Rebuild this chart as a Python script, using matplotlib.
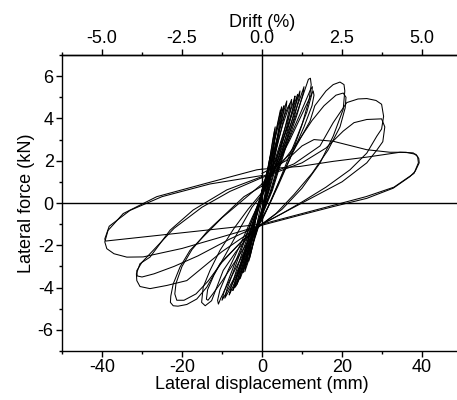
import matplotlib
matplotlib.use("Agg")
import matplotlib.pyplot as plt
from matplotlib.ticker import MultipleLocator, FormatStrFormatter

plt.rcParams['font.family'] = ['Liberation Sans', 'DejaVu Sans']
plt.rcParams['axes.unicode_minus'] = False

# ---- axis ticks / labels ----
x_ticks = [-40, -20, 0, 20, 40]
y_ticks = [-6, -4, -2, 0, 2, 4, 6]
drift_ticks = [-5.0, -2.5, 0.0, 2.5, 5.0]
x_label = "Lateral displacement (mm)"
y_label = "Lateral force (kN)"
top_label = "Drift (%)"
mm_per_percent = 8.0  # 40 mm displacement = 5.0 % drift

# ---- hysteresis cycles (displacement mm, force kN) ----
c01_d = [0, 1.0, 1.8, 2.1, 1.8, 0.8, 0, -0.9, -1.6, -1.8, -1.5, -0.6, 0]
c01_f = [0.2, 1.2, 2.0, 2.2, 1.7, 0.5, -0.3, -1.0, -1.5, -1.6, -1.2, -0.4, 0.2]
c02_d = [0, 1.5, 2.6, 3.2, 3.0, 1.8, 0, -1.5, -2.6, -3.1, -2.9, -1.6, 0]
c02_f = [0.3, 1.6, 2.8, 3.5, 2.8, 1.2, -0.4, -1.3, -2.2, -2.6, -2.1, -0.8, 0.3]
c03_d = [0, 1.6, 2.7, 3.3, 3.1, 1.9, 0, -1.6, -2.8, -3.3, -3.0, -1.5, 0]
c03_f = [0.4, 1.7, 3.0, 3.6, 2.9, 1.1, -0.5, -1.4, -2.4, -2.75, -2.2, -0.7, 0.4]
c04_d = [0, 2.0, 3.6, 4.6, 4.7, 3.6, 1.5, 0, -1.8, -3.2, -3.9, -3.7, -2.2, 0]
c04_f = [0.4, 2.0, 3.5, 4.4, 4.2, 2.8, 0.6, -0.6, -1.6, -2.5, -2.95, -2.6, -1.2, 0.4]
c05_d = [0, 2.2, 3.8, 4.9, 5.0, 3.8, 1.6, 0, -2.0, -3.5, -4.3, -4.1, -2.4, 0]
c05_f = [0.5, 2.1, 3.6, 4.55, 4.3, 2.8, 0.6, -0.6, -1.8, -2.8, -3.25, -2.9, -1.3, 0.5]
c06_d = [0, 2.5, 4.6, 5.8, 6.2, 6.1, 5.2, 3.3, 1.2, 0, -2.2, -4.2, -5.3, -5.6, -5.2, -3.8, -1.8, 0]
c06_f = [0.5, 2.1, 3.7, 4.6, 4.83, 4.6, 3.8, 2.3, 0.6, -0.3, -1.6, -2.9, -3.5, -3.6, -3.2, -2.2, -0.8, 0.5]
c07_d = [0, 2.8, 5.2, 6.8, 7.4, 7.3, 6.3, 4.2, 1.8, 0, -2.5, -4.7, -5.9, -6.3, -5.8, -4.2, -2.0, 0]
c07_f = [0.5, 2.1, 3.7, 4.6, 4.9, 4.6, 3.7, 2.2, 0.6, -0.4, -1.7, -3.0, -3.7, -3.85, -3.4, -2.3, -0.8, 0.5]
c08_d = [0, 3.2, 6.0, 7.7, 8.25, 8.1, 7.0, 4.8, 2.0, 0, -2.8, -5.3, -6.8, -7.3, -6.7, -4.8, -2.2, 0]
c08_f = [0.4, 2.0, 3.7, 4.7, 5.06, 4.8, 3.9, 2.3, 0.5, -0.5, -1.8, -3.2, -3.95, -4.14, -3.7, -2.5, -0.9, 0.4]
c09_d = [0, 3.4, 6.5, 8.3, 8.9, 8.7, 7.5, 5.0, 2.2, 0, -3.0, -5.8, -7.6, -8.2, -7.6, -5.4, -2.5, 0]
c09_f = [0.4, 2.0, 3.7, 4.8, 5.14, 4.85, 3.9, 2.3, 0.5, -0.5, -1.8, -3.3, -4.1, -4.35, -3.9, -2.6, -1.0, 0.4]
c19_d = [0, 2.6, 4.9, 6.4, 7.0, 6.8, 5.7, 3.6, 1.4, 0, -2.6, -5.0, -6.4, -6.8, -6.3, -4.5, -2.1, 0]
c19_f = [0.6, 2.2, 3.8, 4.5, 4.7, 4.4, 3.5, 2.0, 0.4, -0.4, -1.8, -3.2, -3.9, -4.0, -3.5, -2.4, -0.9, 0.6]
c20_d = [0, 3.6, 6.8, 8.8, 9.5, 9.3, 8.0, 5.4, 2.4, 0, -3.2, -6.3, -8.4, -9.3, -8.8, -6.3, -3.0, 0]
c20_f = [0.5, 2.1, 3.8, 4.9, 5.3, 5.0, 4.0, 2.4, 0.6, -0.5, -1.9, -3.4, -4.2, -4.5, -4.1, -2.8, -1.1, 0.5]
c21_d = [0, 3.8, 7.3, 9.6, 10.5, 10.3, 8.8, 5.9, 2.6, 0, -3.4, -6.8, -9.1, -10.0, -9.5, -6.9, -3.3, 0]
c21_f = [0.4, 2.0, 3.8, 5.0, 5.5, 5.2, 4.2, 2.6, 0.6, -0.6, -2.0, -3.5, -4.3, -4.6, -4.2, -2.9, -1.2, 0.4]
c22_d = [0, 2.3, 4.2, 5.2, 5.5, 5.3, 4.3, 2.6, 0.9, 0, -2.0, -3.8, -4.6, -4.8, -4.4, -3.1, -1.4, 0]
c22_f = [0.6, 2.2, 3.8, 4.45, 4.6, 4.3, 3.4, 2.0, 0.4, -0.3, -1.5, -2.7, -3.2, -3.3, -2.9, -1.9, -0.6, 0.6]
c10_d = [0, 3, 6, 9, 10.8, 11.6, 12.1, 12.3, 11.8, 10, 7, 4, 1.5, 0, -2.5, -5.5, -8.5, -10.3, -10.9,
         -11.1, -10.5, -8.5, -5.5, -2.5, 0]
c10_f = [0.3, 1.6, 2.9, 4.4, 5.4, 5.85, 5.9, 5.6, 4.9, 3.7, 2.1, 0.8, -0.2, -0.7, -1.6, -2.7, -3.8, -4.5, -4.78,
         -4.6, -4.1, -3.2, -2.0, -0.7, 0.3]
c11_d = [0, 3.2, 6.5, 9.5, 11.3, 12.2, 12.6, 12.4, 11.2, 8.5, 5.5, 2.5, 0, -3, -6.5, -10, -12.3, -13.5, -13.9,
         -13.6, -12, -9, -5.5, -2.5, 0]
c11_f = [0.4, 1.6, 2.9, 4.2, 5.0, 5.4, 5.5, 5.1, 4.3, 3.0, 1.6, 0.2, -0.8, -1.7, -2.7, -3.7, -4.3, -4.6, -4.55,
         -4.1, -3.4, -2.4, -1.2, -0.2, 0.4]
c12_d = [0, 3.5, 7, 10, 12, 12.8, 13.0, 12.5, 10.5, 7.5, 4, 1, 0, -3, -6.5, -9.7, -11.3, -12.6, -14.2, -15.1,
         -14.7, -13, -10.5, -7, -3.5, 0]
c12_f = [0.5, 1.7, 3.0, 4.2, 5.0, 5.3, 5.1, 4.6, 3.6, 2.3, 0.9, -0.4, -0.8, -1.5, -2.3, -3.19, -3.98, -4.62, -4.86,
         -4.7, -3.98, -3.19, -2.24, -1.2, -0.3, 0.5]
c13_d = [0, 4, 7.8, 12, 13.2, 16, 17.8, 19.5, 20.5, 20.7, 20.3, 17.8, 14.5, 10, 5, 0, -5, -10.5, -13.8, -16.3,
         -18.8, -21, -22.2, -22.9, -22.8, -22.2, -20.5, -18, -14.7, -10, -5, 0]
c13_f = [0.9, 1.8, 2.44, 3.87, 4.6, 5.3, 5.6, 5.72, 5.6, 5.3, 4.43, 3.16, 1.89, 0.7, -0.3, -1.0, -1.8, -2.87,
         -3.98, -4.54, -4.8, -4.88, -4.86, -4.7, -4.4, -3.83, -3.03, -2.24, -1.6, -0.7, 0.1, 0.9]
c14_d = [0, 5, 9, 12.5, 15.5, 18.5, 20.3, 21, 20.8, 19.5, 16.5, 12.5, 8, 3.5, 0, -5, -10, -13.5, -16.5, -19.5,
         -21.3, -21.8, -21.5, -20, -17.5, -13.5, -9, -4.5, 0]
c14_f = [0.8, 1.9, 2.9, 3.9, 4.6, 5.1, 5.2, 5.0, 4.5, 3.6, 2.5, 1.4, 0.4, -0.5, -1.0, -1.8, -2.8, -3.7, -4.3,
         -4.6, -4.6, -4.3, -3.8, -3.0, -2.2, -1.3, -0.5, 0.3, 0.8]
c15_d = [0, 8, 14.5, 17.8, 21.2, 24, 26.2, 28.5, 29.9, 30.4, 29.9, 28.7, 26.2, 22, 16, 10, 5, 0, -10, -18.8,
         -23.8, -28, -30.5, -31.3, -31.4, -30.5, -28, -23, -17.2, -8.8, 0]
c15_f = [1.25, 1.85, 2.7, 3.8, 4.75, 4.92, 4.94, 4.85, 4.67, 4.1, 3.5, 3.16, 2.36, 1.57, 0.75, 0.05, -0.5, -1.0,
         -2.3, -3.67, -3.9, -4.05, -3.95, -3.67, -3.35, -2.87, -2.56, -1.29, -0.33, 0.62, 1.25]
c16_d = [0, 10, 16, 20.3, 23, 26.2, 29.9, 30.7, 30.2, 28.7, 26.2, 20, 12, 5, 0, -8, -16, -22, -27, -30, -31.2,
         -31.3, -30, -27, -22, -15, -8, 0]
c16_f = [1.2, 1.9, 2.6, 3.4, 3.8, 3.95, 3.98, 3.6, 2.9, 2.5, 1.9, 1.0, 0.2, -0.5, -1.0, -1.7, -2.5, -3.0, -3.35,
         -3.5, -3.45, -3.2, -2.8, -2.2, -1.2, -0.2, 0.55, 1.2]
c17_d = [0, 6, 10, 13, 17.8, 26.2, 32, 36, 38.5, 39.2, 39.3, 38.3, 37, 32.8, 26.2, 17.8, 9, 0, -10, -20, -29.7,
         -33.8, -37, -38.8, -39.3, -38.5, -34.7, -26.3, -13.8, -1.3, 0]
c17_f = [1.4, 2.0, 2.7, 3.0, 2.92, 2.52, 2.4, 2.4, 2.3, 2.1, 1.9, 1.5, 1.25, 0.7, 0.22, -0.17, -0.6, -1.05, -1.6,
         -2.15, -2.55, -2.56, -2.4, -2.16, -1.84, -1.3, -0.5, 0.3, 0.94, 1.57, 1.6]
c18_d = [0, 9.5, 17.8, 26.2, 34.5, 37.8, 38.9, 39.1, 38, 33, 26, 18, 9, 0, -39.1, -39.3, -38.2, -33, -25, -13, 0]
c18_f = [1.6, 1.73, 1.97, 2.17, 2.4, 2.37, 2.2, 1.9, 1.4, 0.75, 0.3, -0.1, -0.55, -1.0, -1.8, -1.7, -1.1, -0.35,
         0.3, 0.9, 1.3]

cycles = [(c01_d, c01_f), (c02_d, c02_f), (c03_d, c03_f), (c04_d, c04_f), (c05_d, c05_f),
          (c22_d, c22_f), (c06_d, c06_f), (c19_d, c19_f), (c07_d, c07_f), (c08_d, c08_f),
          (c09_d, c09_f), (c20_d, c20_f), (c21_d, c21_f), (c10_d, c10_f),
          (c11_d, c11_f), (c12_d, c12_f), (c13_d, c13_f), (c14_d, c14_f), (c15_d, c15_f),
          (c16_d, c16_f), (c17_d, c17_f), (c18_d, c18_f)]

fig = plt.figure(figsize=(4.57, 4.0), dpi=100)
ax = fig.add_axes([62 / 457, 49 / 400, 400 / 457, 296 / 400])

for d, f in cycles:
    ax.plot(d, f, color='black', lw=0.75, solid_joinstyle='round')

ax.axhline(0, color='black', lw=1.0)
ax.axvline(0, color='black', lw=1.0)

ax.set_xlim(-50, 50)
ax.set_ylim(-7, 7)
ax.set_xticks(x_ticks)
ax.set_yticks(y_ticks)
ax.xaxis.set_minor_locator(MultipleLocator(10))
ax.yaxis.set_minor_locator(MultipleLocator(1))
ax.tick_params(which='major', direction='out', length=4, width=1, labelsize=13, pad=2)
ax.tick_params(which='minor', direction='out', length=2.5, width=1)
ax.spines['right'].set_visible(False)
for s in ['left', 'bottom', 'top']:
    ax.spines[s].set_linewidth(1.0)
ax.set_xlabel(x_label, fontsize=13, labelpad=0)
ax.set_ylabel(y_label, fontsize=13, labelpad=2)

top = ax.secondary_xaxis('top', functions=(lambda x: x / mm_per_percent, lambda p: p * mm_per_percent))
top.set_xticks(drift_ticks)
top.xaxis.set_major_formatter(FormatStrFormatter('%.1f'))
top.xaxis.set_minor_locator(MultipleLocator(1.25))
top.tick_params(which='major', direction='out', length=4, width=1, labelsize=13, pad=2)
top.tick_params(which='minor', direction='out', length=2.5, width=1)
top.set_xlabel(top_label, fontsize=13, labelpad=2)
top.spines['top'].set_linewidth(1.0)

fig.savefig('out.png', dpi=100)
